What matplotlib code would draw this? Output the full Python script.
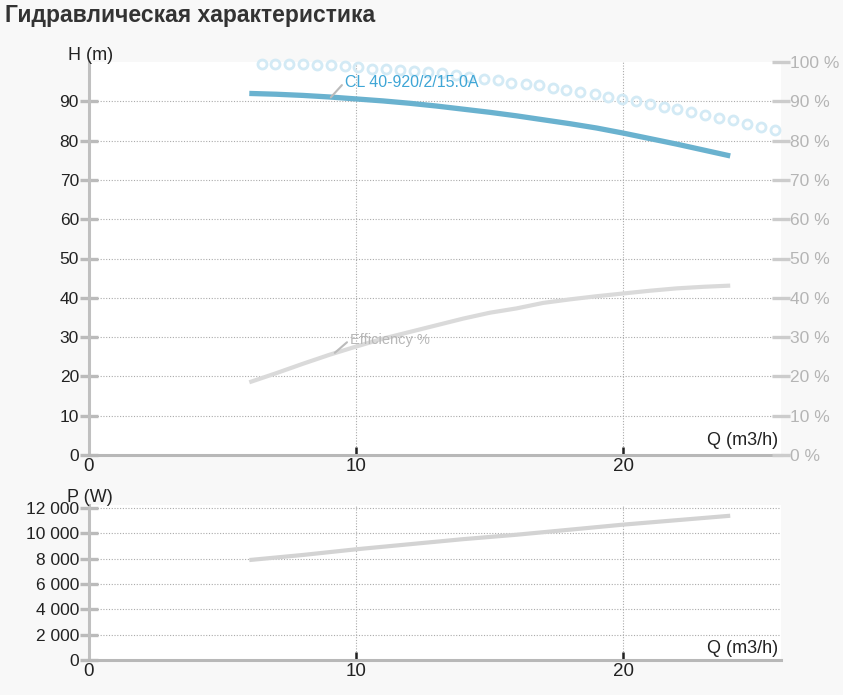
import matplotlib
matplotlib.use("Agg")
import matplotlib.pyplot as plt  # noqa: E402
from matplotlib.ticker import FuncFormatter  # noqa: E402

plt.rcParams["font.family"] = ["Liberation Sans", "DejaVu Sans"]

# --- data ---
q = [6, 7, 8, 9, 10, 11, 12, 13, 14, 15, 16, 17, 18, 19, 20, 21, 22, 23, 24]
head = [92.0, 91.8, 91.5, 91.1, 90.6, 90.1, 89.5, 88.8, 88.0, 87.2,
        86.3, 85.3, 84.3, 83.2, 81.9, 80.5, 79.1, 77.6, 76.1]
eff = [18.5, 20.8, 23.2, 25.5, 27.6, 29.6, 31.3, 33.0, 34.7, 36.2,
       37.3, 38.7, 39.6, 40.4, 41.1, 41.8, 42.4, 42.8, 43.1]
q_p = [6, 8, 10, 12, 14, 16, 18, 20, 22, 24]
power = [7900, 8300, 8750, 9150, 9550, 9900, 10300, 10700, 11050, 11400]

# hollow circles (right % scale)
q_c = [6.46, 6.98, 7.48, 8.01, 8.52, 9.05, 9.57, 10.06, 10.58, 11.10,
       11.63, 12.15, 12.67, 13.20, 13.72, 14.24, 14.77, 15.29, 15.81, 16.34,
       16.86, 17.35, 17.87, 18.39, 18.92, 19.44, 19.96, 20.49, 21.01, 21.53,
       22.02, 22.54, 23.07, 23.59, 24.11, 24.64, 25.16, 25.68]
pct_c = [99.6, 99.6, 99.5, 99.4, 99.3, 99.2, 99.0, 98.7, 98.3, 98.2,
         98.0, 97.8, 97.5, 97.2, 96.7, 96.2, 95.8, 95.4, 94.7, 94.3,
         94.1, 93.5, 92.9, 92.4, 91.9, 91.2, 90.5, 90.1, 89.3, 88.6,
         88.0, 87.4, 86.5, 85.8, 85.2, 84.2, 83.5, 82.7]

BG = "#f8f8f8"
GRID = "#aaaaaa"
AX_GRAY = "#c0c0c0"
TXT = "#222222"

fig = plt.figure(figsize=(8.43, 6.95), dpi=100, facecolor=BG)
fig.text(0.006, 0.994, "Гидравлическая характеристика", fontsize=16.5,
         fontweight="bold", color="#333333", va="top", ha="left")

ax = fig.add_axes([89 / 843, 1 - 455 / 695, (781 - 89) / 843, (455 - 62) / 695])
axp = fig.add_axes([89 / 843, 1 - 660 / 695, (781 - 89) / 843, (660 - 505) / 695])


def style(a):
    a.set_facecolor("white")
    for s in ("top", "right"):
        a.spines[s].set_visible(False)
    a.spines["left"].set_color(AX_GRAY)
    a.spines["left"].set_linewidth(2.2)
    a.spines["bottom"].set_color("#b8b8b8")
    a.spines["bottom"].set_linewidth(2.2)
    a.tick_params(axis="y", direction="inout", length=12.5, width=2.4,
                  color="#bbbbbb", labelsize=12.5, labelcolor=TXT, pad=1)
    a.tick_params(axis="x", direction="in", length=6, width=1.8,
                  color=TXT, labelsize=13.5, labelcolor=TXT, pad=2)
    a.set_xlim(0, 25.9)
    a.set_xticks([0, 10, 20])
    a.grid(True, linestyle=(0, (1, 1.5)), color=GRID, lw=0.8)
    a.set_axisbelow(True)


# --- top: head / efficiency ---
style(ax)
ax.set_ylim(0, 100)
ax.set_yticks(range(0, 100, 10))
ax.plot(q, head, color="#6ab2cf", lw=3.8, solid_capstyle="butt")
ax.plot(q, eff, color="#dadada", lw=3.0, solid_capstyle="butt")
fig.text(113 / 843, 1 - 60 / 695, "H (m)", ha="right", va="baseline",
         fontsize=13, color=TXT)
ax.text(25.8, 1.5, "Q (m3/h)", ha="right", va="bottom", fontsize=13, color=TXT)

ax2 = ax.twinx()
ax2.set_ylim(0, 100)
for s in ax2.spines.values():
    s.set_visible(False)
ax2.set_yticks(range(0, 101, 10))
ax2.yaxis.set_major_formatter(FuncFormatter(lambda v, _: f"{int(v)} %"))
ax2.tick_params(axis="y", direction="inout", length=12.5, width=2.4,
                color="#cccccc", labelcolor="#b5b5b5", labelsize=12.5, pad=0)
ax2.plot(q_c, pct_c, ls="none", marker="o", ms=6.5, mfc="none",
         mec="#d3eaf5", mew=2.0, clip_on=False)

ax2.annotate("CL 40-920/2/15.0A", xy=(9.05, 91.0), xytext=(9.57, 94.9),
             xycoords=ax.transData, textcoords=ax.transData,
             fontsize=11.5, color="#3fa6d6", va="center", ha="left", zorder=5,
             arrowprops=dict(arrowstyle="-", color="#bbbbbb", lw=1.5,
                             shrinkA=0, shrinkB=0, relpos=(0, 0.5)))
ax2.annotate("Efficiency %", xy=(9.2, 26.0), xytext=(9.76, 29.3),
             xycoords=ax.transData, textcoords=ax.transData,
             fontsize=10.5, color="#b8b8b8", va="center", ha="left",
             arrowprops=dict(arrowstyle="-", color="#bbbbbb", lw=1.5,
                             shrinkA=0, shrinkB=0, relpos=(0, 0.5)))

# --- bottom: power ---
style(axp)
axp.set_ylim(0, 12250)
axp.set_yticks(range(0, 12001, 2000))
axp.yaxis.set_major_formatter(FuncFormatter(lambda v, _: f"{int(v):,}".replace(",", " ")))
axp.plot(q_p, power, color="#d3d3d3", lw=3.0, solid_capstyle="butt")
fig.text(113 / 843, 1 - 502 / 695, "P (W)", ha="right", va="baseline",
         fontsize=13, color=TXT)
axp.text(25.8, 200, "Q (m3/h)", ha="right", va="bottom", fontsize=13, color=TXT)

fig.savefig("out.png", dpi=100, facecolor=BG)
